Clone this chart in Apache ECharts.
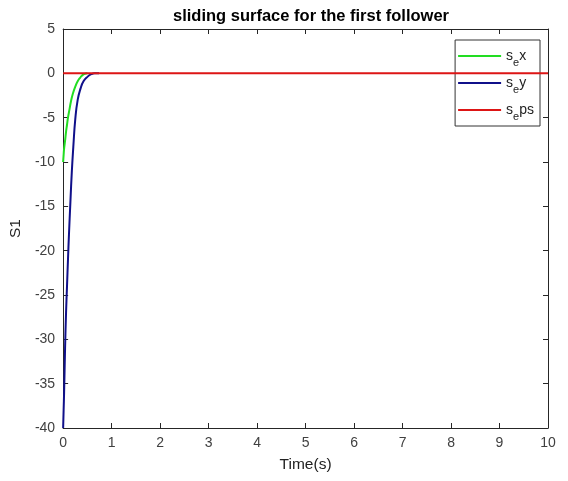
<!DOCTYPE html>
<html><head><meta charset="utf-8">
<script src="https://cdn.jsdelivr.net/npm/echarts@6/dist/echarts.min.js"></script>
<style>html,body{margin:0;padding:0;background:#fff}#c{width:568px;height:481px}</style>
</head><body><div id="c"></div>
<script>
const title = 'sliding surface for the first follower';
const xTicks = [0,1,2,3,4,5,6,7,8,9,10];
const yTicks = [-40,-35,-30,-25,-20,-15,-10,-5,0,5];
const sxTime = [0,0.01,0.02,0.04,0.06,0.08,0.1,0.13,0.16,0.2,0.25,0.3,0.35,0.4,0.45,0.5];
const sxVals = [-10,-9.2,-8.5,-7.6,-6.6,-5.8,-5,-4.1,-3.2,-2.3,-1.5,-0.9,-0.5,-0.2,-0.05,0];
const syTime = [0,0.01,0.02,0.04,0.06,0.08,0.1,0.12,0.15,0.18,0.21,0.25,0.3,0.36,0.42,0.5,0.58,0.65,0.74];
const syVals = [-40,-38,-36,-31,-27,-24,-21,-18.2,-14.5,-11,-8.3,-5.2,-3,-1.7,-0.9,-0.4,-0.1,0,0];
const spsTime = [0,10];
const spsVals = [0,0];
const names = ['sx','sy','sps'];
const labels = {sx:'x', sy:'y', sps:'ps'};
const pairs = (t,v)=>t.map((x,i)=>[x,v[i]]);
const chart = echarts.init(document.getElementById('c'));
const axisCol = '#262626';
const ff = 'Liberation Sans, Arial';
const tickLbl = {color:'#404040', fontSize:14, fontFamily:ff};
const ax = {onZero:false, lineStyle:{color:axisCol}};
chart.setOption({
  animation:false,
  title:{text:title, left:306, top:3, textAlign:'center', textStyle:{fontSize:16.5, fontWeight:'bold', color:'#000', fontFamily:ff}},
  grid:{left:62, right:20, top:29, bottom:53},
  legend:{
    right:28, top:40, orient:'vertical', itemWidth:43, itemHeight:2, itemGap:8,
    backgroundColor:'#fff', borderColor:'#333', borderWidth:1, padding:[9,6,4,3],
    icon:'rect',
    data:names,
    formatter:n=>'{s|s}{e|e}{t|'+labels[n]+'}',
    textStyle:{rich:{
      s:{fontSize:14,color:'#222',fontFamily:ff,verticalAlign:'bottom'},
      e:{fontSize:11,color:'#222',verticalAlign:'bottom',padding:[0,0,-5,0],fontFamily:ff},
      t:{fontSize:14,color:'#222',fontFamily:ff,verticalAlign:'bottom'}
    }}
  },
  xAxis:[
    {type:'value', min:0, max:10, interval:1, name:'Time(s)', nameLocation:'middle', nameGap:29,
     nameTextStyle:{fontSize:15.5,color:'#222',fontFamily:ff},
     axisLine:ax, axisTick:{inside:true,length:5,lineStyle:{color:axisCol}},
     axisLabel:Object.assign({margin:8, formatter:v=>xTicks.includes(v)?String(v):''},tickLbl), splitLine:{show:false}},
    {type:'value', min:0, max:10, interval:1, position:'top',
     axisLine:ax, axisTick:{inside:true,length:5,lineStyle:{color:axisCol}},
     axisLabel:{show:false}, splitLine:{show:false}}
  ],
  yAxis:[
    {type:'value', min:-40, max:5, interval:5, name:'S1', nameLocation:'middle', nameGap:36,
     nameTextStyle:{fontSize:15.5,color:'#222',fontFamily:ff},
     axisLine:ax, axisTick:{inside:true,length:5,lineStyle:{color:axisCol}},
     axisLabel:Object.assign({margin:8, formatter:v=>yTicks.includes(v)?String(v):''},tickLbl), splitLine:{show:false}},
    {type:'value', min:-40, max:5, interval:5, position:'right',
     axisLine:ax, axisTick:{inside:true,length:5,lineStyle:{color:axisCol}},
     axisLabel:{show:false}, splitLine:{show:false}}
  ],
  series:[
    {name:'sx', type:'line', data:pairs(sxTime,sxVals), showSymbol:false, smooth:true, lineStyle:{color:'#22dd22',width:2}, itemStyle:{color:'#22dd22'}, z:3},
    {name:'sy', type:'line', data:pairs(syTime,syVals), showSymbol:false, smooth:true, lineStyle:{color:'#10108a',width:2}, itemStyle:{color:'#10108a'}, z:3},
    {name:'sps', type:'line', data:pairs(spsTime,spsVals), showSymbol:false, lineStyle:{color:'#dd1515',width:2}, itemStyle:{color:'#dd1515'}, z:4}
  ]
});
</script></body></html>
